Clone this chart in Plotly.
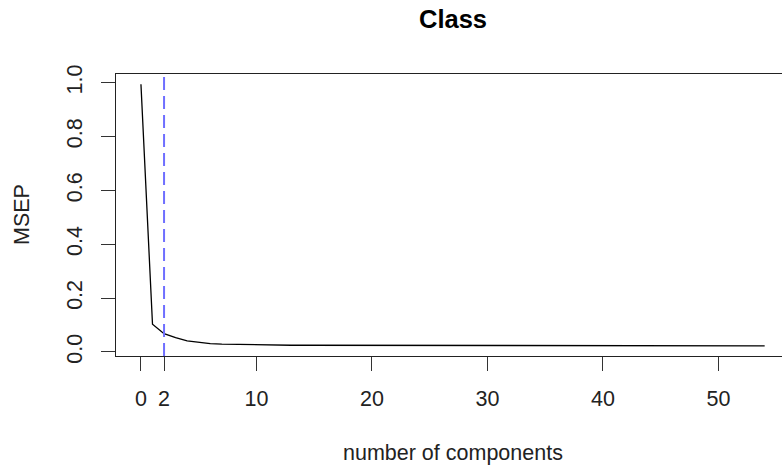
import plotly.graph_objects as go

# ---- data ----
components = list(range(0, 55))
msep = [0.994, 0.103, 0.068, 0.053, 0.041, 0.035, 0.031, 0.029, 0.028, 0.027,
        0.026, 0.026, 0.025, 0.025, 0.025, 0.025, 0.025, 0.025, 0.025, 0.025,
        0.025, 0.024, 0.024, 0.024, 0.024, 0.024, 0.024, 0.024, 0.024, 0.024,
        0.024, 0.024, 0.024, 0.024, 0.024, 0.024, 0.024, 0.024, 0.024, 0.024,
        0.024, 0.024, 0.024, 0.024, 0.024, 0.024, 0.024, 0.024, 0.024, 0.024,
        0.024, 0.023, 0.023, 0.023, 0.023]
selected_ncomp = 2
x_ticks = [0, 2, 10, 20, 30, 40, 50]
y_ticks = [0.0, 0.2, 0.4, 0.6, 0.8, 1.0]
title_text = "Class"
x_title = "number of components"
y_title = "MSEP"

FONT = "Liberation Sans, Arial, Helvetica, sans-serif"

fig = go.Figure()
fig.add_trace(go.Scatter(x=components, y=msep, mode="lines",
                         line=dict(color="black", width=1.3),
                         showlegend=False, hoverinfo="skip"))

fig.add_shape(type="line", xref="x", yref="paper",
              x0=selected_ncomp, x1=selected_ncomp, y0=0, y1=1,
              line=dict(color="#6f6fff", width=2, dash="13px,6px"))

fig.update_layout(
    width=782, height=470,
    margin=dict(l=116, r=0, t=74, b=114),
    paper_bgcolor="white", plot_bgcolor="white",
    font=dict(family=FONT, size=21.5, color="black"),
    showlegend=False,
    xaxis=dict(range=[-2.16, 55.5], tickmode="array", tickvals=x_ticks,
               ticktext=[str(v) for v in x_ticks],
               ticks="outside", ticklen=14, tickwidth=1.2, tickcolor="#333",
               ticklabelstandoff=9,
               showline=True, mirror=True, linecolor="#222", linewidth=1.3,
               showgrid=False, zeroline=False,
               tickfont=dict(family=FONT, size=21.5, color="#222")),
    yaxis=dict(range=[-0.0149, 1.0323], tickmode="array", tickvals=y_ticks,
               ticktext=[f"{v:.1f}" for v in y_ticks], tickangle=-90,
               ticks="outside", ticklen=14, tickwidth=1.2, tickcolor="#333",
               ticklabelstandoff=10,
               showline=True, mirror=False, linecolor="#222", linewidth=1.3,
               showgrid=False, zeroline=False,
               tickfont=dict(family=FONT, size=21.5, color="#222")),
    annotations=[
        dict(text=f"<b>{title_text}</b>", xref="paper", yref="paper",
             x=0.5053, y=1.195, xanchor="center", yanchor="middle",
             showarrow=False, font=dict(family=FONT, size=25.5, color="black")),
        dict(text=x_title, xref="paper", yref="paper",
             x=0.5053, y=-0.344, xanchor="center", yanchor="middle",
             showarrow=False, font=dict(family=FONT, size=21.5, color="#222")),
        dict(text=y_title, xref="paper", yref="paper",
             x=-0.1411, y=0.5, xanchor="center", yanchor="middle", textangle=-90,
             showarrow=False, font=dict(family=FONT, size=21.5, color="#222")),
    ],
)

fig.write_html("out.html")
